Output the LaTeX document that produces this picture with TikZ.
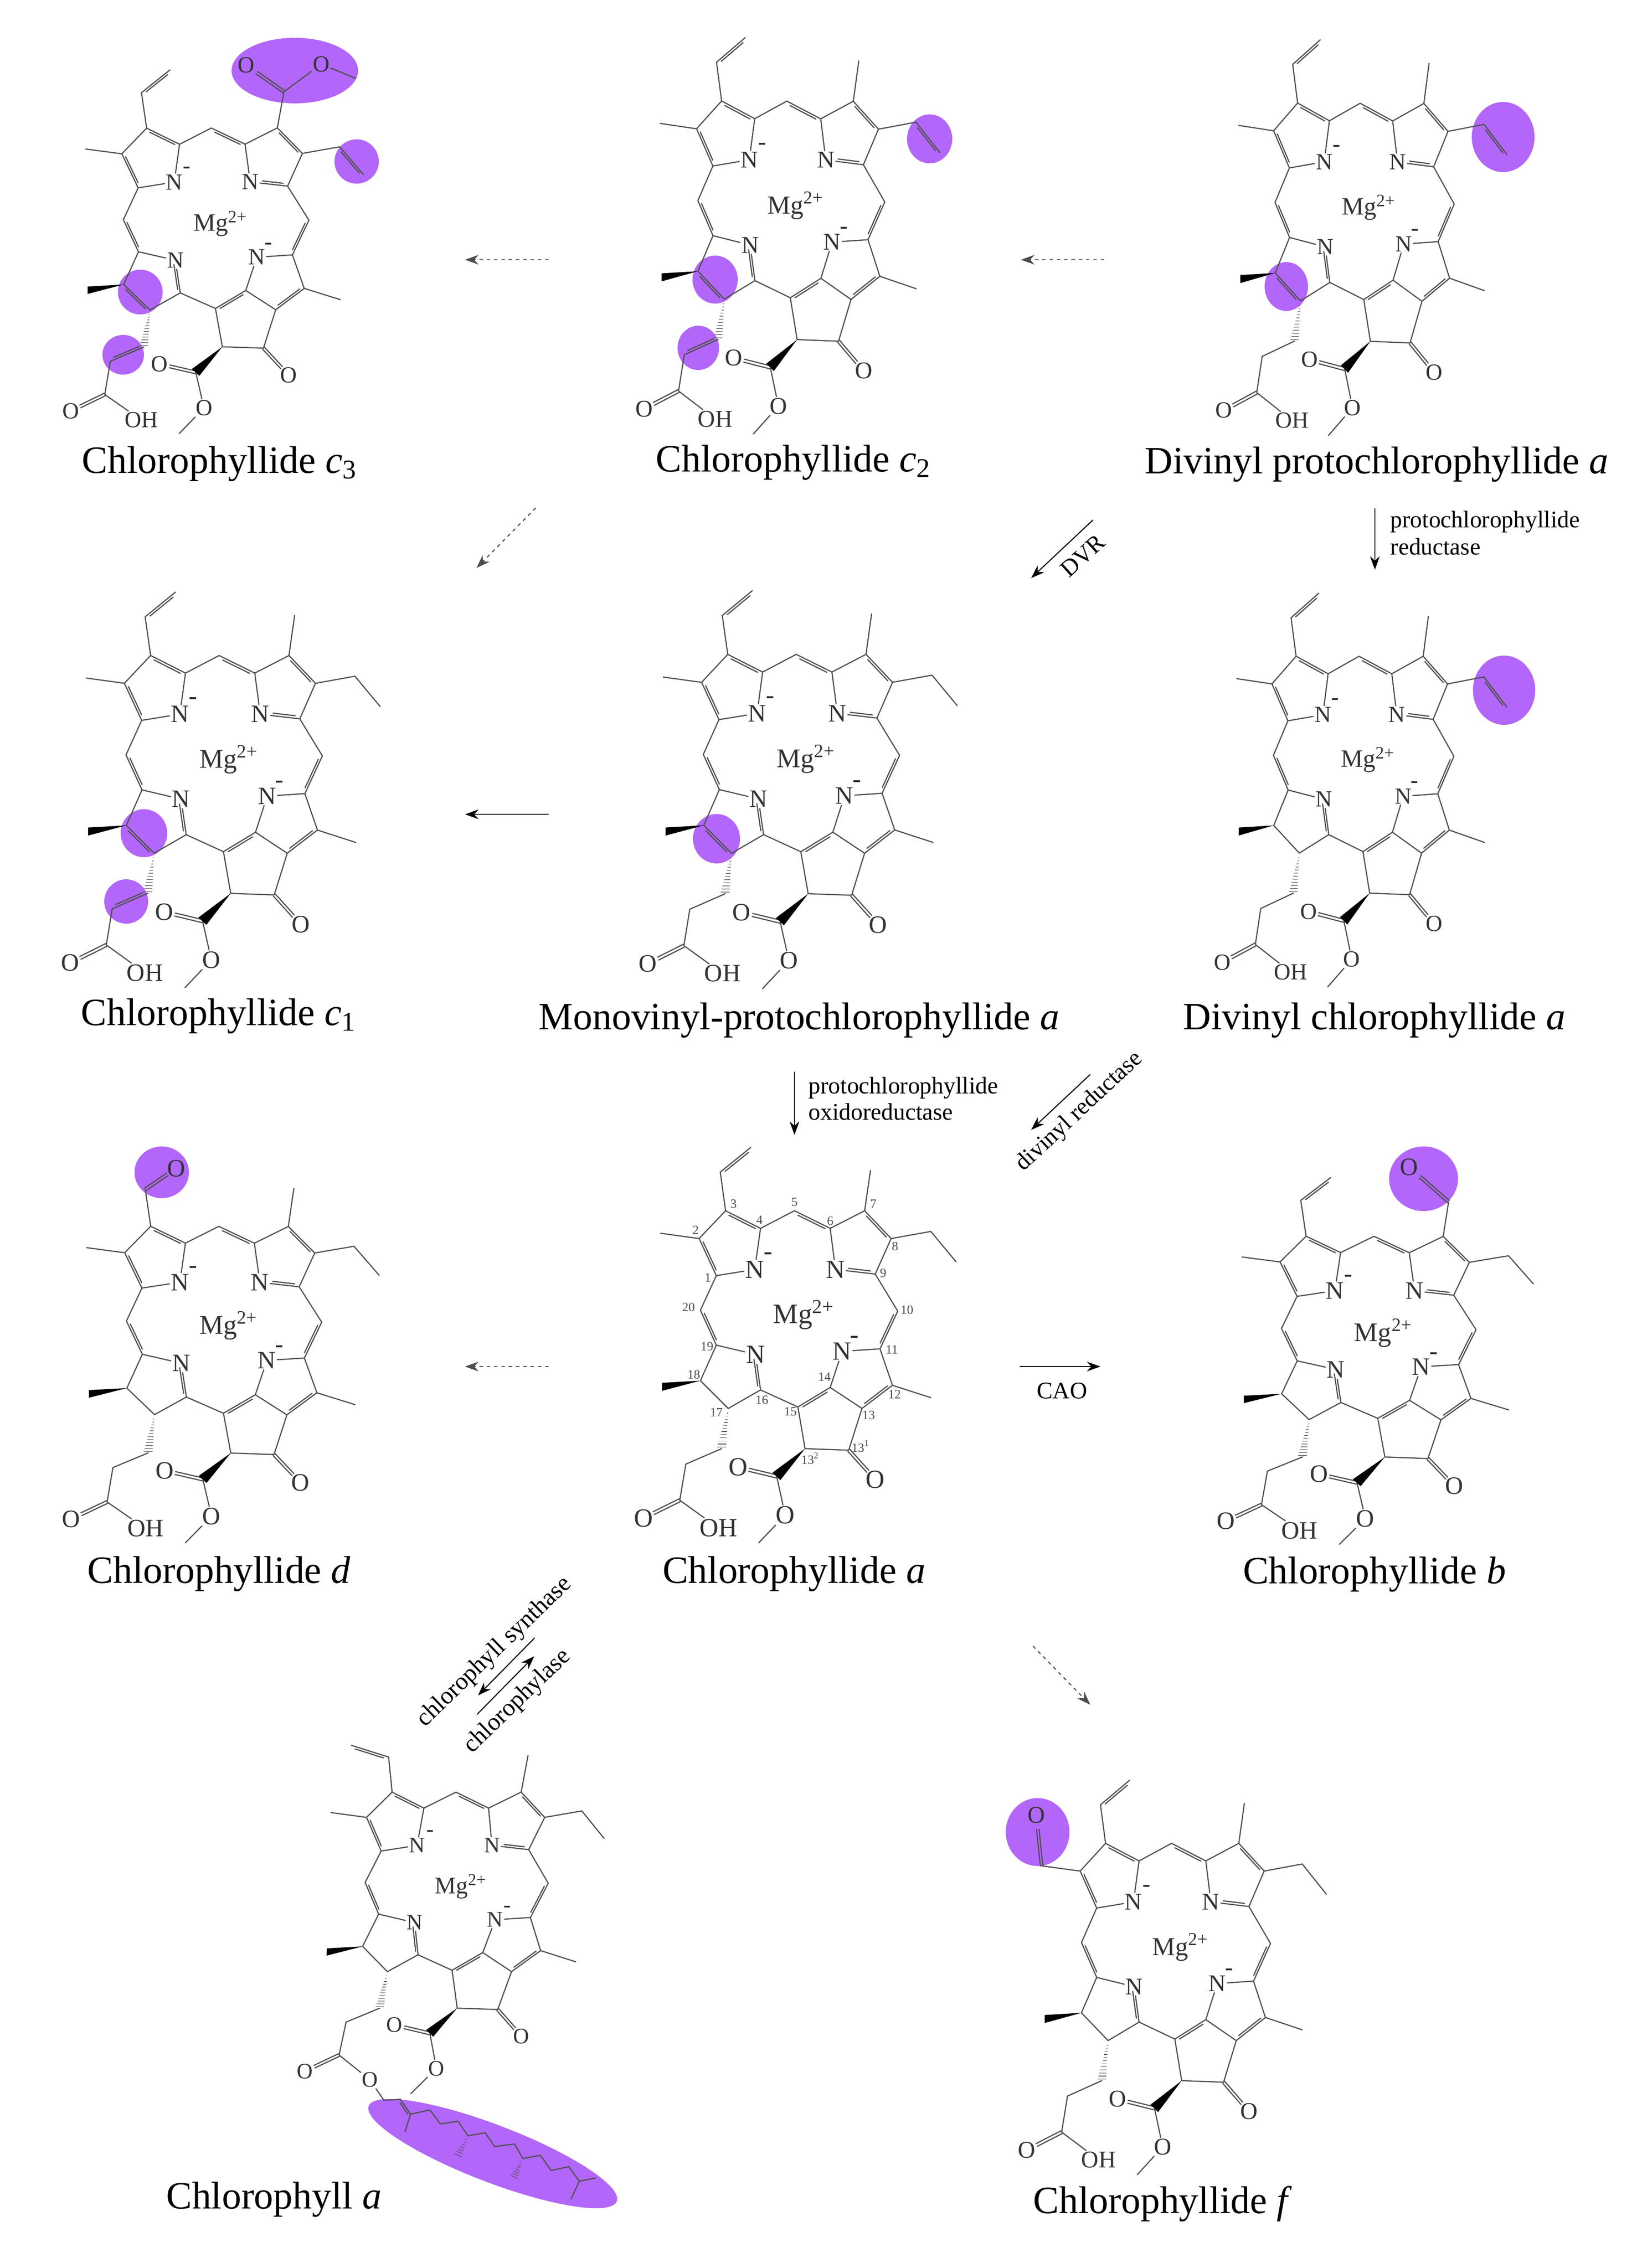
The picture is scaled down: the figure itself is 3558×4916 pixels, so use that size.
\documentclass[tikz,border=0pt]{standalone}
\usepackage{fontspec}
\setmainfont{Liberation Serif}
\usetikzlibrary{calc,arrows.meta}
\definecolor{hlpurple}{HTML}{B266FA}
\definecolor{bondcol}{HTML}{505050}
\tikzset{
  bd/.style={draw=bondcol,line width=.6pt,line cap=round,line join=round},
  atom/.style={inner sep=.5pt,text=black!80,font=\fontsize{\mfs}{\mfs}\selectfont},
  atomsm/.style={inner sep=0pt,text=black!85,font=\fontsize{\mfs}{\mfs}\selectfont},
  mgatom/.style={inner sep=.5pt,text=black!80,font=\fontsize{\mgfs}{\mgfs}\selectfont},
  num/.style={inner sep=0pt,text=black!70,font=\fontsize{6.6}{6.6}\selectfont},
  title/.style={anchor=base,inner sep=0pt,font=\fontsize{20.1}{22}\selectfont},
  enz/.style={inner sep=0pt,font=\fontsize{12.4}{14}\selectfont},
  rxn/.style={draw=black,line width=.55pt,-{Stealth[length=7pt,width=5pt]}},
  rxnd/.style={draw=black!70,line width=.55pt,dash pattern=on 1.8pt off 2pt,-{Stealth[length=7pt,width=5pt]}},
  hlfill/.style={fill=hlpurple,draw=none}
}
\newcommand\dbgap{2pt}
\newcommand\dbond[3][.12]{%
  \draw[bd] (#2)--(#3);
  \draw[bd] ($(#2)!#1!(#3)!\dbgap!90:(#3)$)--($(#3)!.12!(#2)!\dbgap!-90:(#2)$);}
\newcommand\cbond[2]{%
  \draw[bd] ($(#1)!1.2pt!90:(#2)$)--($(#1)!.72!(#2)!1.2pt!90:(#2)$);
  \draw[bd] ($(#1)!1.2pt!-90:(#2)$)--($(#1)!.72!(#2)!1.2pt!-90:(#2)$);}
\newcommand\hl[4]{\fill[hlfill] (#1,#2) ellipse [x radius=#3,y radius=#4];}
% invariant part of the macrocycle
\newcommand\mol[1]{%
  \def\mfs{#1}%
  \pgfmathsetmacro\mgfs{#1*1.08}%
  \coordinate (C1) at (440,545);\coordinate (C2) at (375,425);\coordinate (C3) at (475,335);
  \coordinate (C4) at (607,392);\coordinate (C5) at (735,335);\coordinate (C6) at (870,392);
  \coordinate (C7) at (1000,335);\coordinate (C8) at (1100,425);\coordinate (C9) at (1040,540);
  \coordinate (C10) at (1125,660);\coordinate (C11) at (1058,782);\coordinate (C12) at (1105,900);
  \coordinate (C13) at (990,975);\coordinate (C14) at (870,907);\coordinate (C15) at (748,970);
  \coordinate (C16) at (607,915);\coordinate (C17) at (485,975);\coordinate (C18) at (380,885);
  \coordinate (C19) at (440,770);\coordinate (C20) at (380,657);
  \coordinate (Va) at (455,210);\coordinate (Vb) at (570,130);
  \coordinate (M2) at (230,408);\coordinate (M7) at (1022,205);\coordinate (M12) at (1250,940);
  \coordinate (E1) at (1250,402);\coordinate (E2) at (1345,500);
  \coordinate (CHa) at (460,1105);\coordinate (CHb) at (325,1155);\coordinate (CO) at (302,1272);
  \coordinate (K1) at (940,1110);\coordinate (K2) at (775,1105);\coordinate (EC) at (668,1195);
  \coordinate (Me) at (600,1410);
  \node[atom] (Na) at (585,525) {N};\node[atomsm] (Nam) at (636,482) {-};
  \node[atom] (Nb) at (890,525) {N};
  \node[atom] (Nc) at (915,790) {N};\node[atomsm] (Ncm) at (962,752) {-};
  \node[atom] (Nd) at (588,800) {N};
  \node[mgatom] (Mg) at (770,672) {Mg\textsuperscript{2+}};
  \node[atom] (Ok) at (1040,1205) {O};
  \node[atom] (Oe) at (522,1165) {O};
  \node[atom] (Om) at (700,1320) {O};
  \node[atom] (Oa) at (165,1330) {O};
  \draw[bd] (C3)--(C2) (C4)--(C5) (C6)--(C7) (C8)--(C9) (C6)--(Nb) (C4)--(Na) (Na)--(C1) (C1)--(C20)
    (C19)--(Nd) (C19)--(C18) (C17)--(C16) (C16)--(C15) (C14)--(Nc) (Nc)--(C11) (C10)--(C9)
    (C11)--(C12) (C13)--(C14) (C13)--(K1) (K1)--(K2) (K2)--(C15) (C12)--(M12)
    (EC)--(Om) (Om)--(Me) (CHb)--(CO);
  \dbond{C4}{C3}\dbond{C2}{C1}\dbond{C6}{C5}\dbond{C8}{C7}\dbond[.32]{Nb}{C9}\dbond{C20}{C19}
  \dbond{C11}{C10}\dbond{C16}{Nd}\dbond{C14}{C15}\dbond{C13}{C12}
  \cbond{K1}{Ok}\cbond{EC}{Oe}\cbond{CO}{Oa}
  \fill[black] (C18)--(235,892)--(235,918)--cycle;
  \fill[black] (K2)--(652,1183)--(682,1207)--cycle;
  \foreach \t in {.12,.2,.28,.36,.44,.52,.6,.68,.76,.84,.92,1}
    {\draw[draw=bondcol,line width=.3pt] ({485-25*\t-17*\t},{975+125*\t})--({485-25*\t+17*\t},{975+125*\t});}
}
% variable parts
\newcommand\subVinyl{\draw[bd] (C3)--(Va);\dbond{Vb}{Va}}
\newcommand\subMeII{\draw[bd] (C2)--(M2);}
\newcommand\subMeVII{\draw[bd] (C7)--(M7);}
\newcommand\subEt{\draw[bd] (C8)--(E1)--(E2);}
\newcommand\subVinylVIII{\draw[bd] (C8)--(E1);\dbond{E2}{E1}}
\newcommand\sglXVIII{\draw[bd] (C18)--(C17);}
\newcommand\dblXVIII{\dbond{C17}{C18}}
\newcommand\sglCH{\draw[bd] (CHa)--(CHb);}
\newcommand\dblCH{\dbond{CHb}{CHa}}
\newcommand\subOH{\node[atom] (Oh) at (448,1362) {OH};\draw[bd] (CO)--(Oh);}
\begin{document}
\begin{tikzpicture}[x=.24pt,y=-.24pt]
\useasboundingbox (0,0) rectangle (3558,4916);
\fill[white] (0,0) rectangle (3558,4916);
% ---------- highlights
\hl{639}{153}{137}{71}\hl{773}{350}{48}{48}\hl{304}{633}{48.5}{48.5}\hl{267}{769}{45}{43}
\hl{2015}{301}{49}{53}\hl{1550}{606}{49}{52}\hl{1513.5}{754}{45}{48}
\hl{3258}{297}{68}{76}\hl{2788}{621}{47}{53}
\hl{312}{1806}{50.5}{52}\hl{273.5}{1954}{47.5}{48}
\hl{1553}{1818}{51}{53.6}
\hl{3260}{1496}{67.5}{75}
\hl{350.5}{2541}{59}{56}
\hl{3085.5}{2555}{74.6}{70}
\hl{2249}{3971}{69}{73.6}
\fill[hlfill,rotate around={-21:(1068,4668)}] (1068,4668) ellipse [x radius=288,y radius=62];
% ---------- Chlorophyllide c3
\begin{scope}[name prefix=cIII-,cm={.5398,.0011,-.0029,.6159,(60.4,72)}]
  \mol{12}\subVinyl\subMeII\subVinylVIII\dblXVIII\dblCH\subOH
  \node[atom] (Oi) at (876,114) {O};\node[atom] (Oj) at (1177,111) {O};
  \coordinate (Ec) at (1027,208);\coordinate (Em) at (1315,161);
  \draw[bd] (C7)--(Ec) (Ec)--(Oj) (Oj)--(Em);\cbond{Ec}{Oi}
\end{scope}
% ---------- Chlorophyllide c2
\begin{scope}[name prefix=cII-,cm={.5437,-.0012,-.0008,.6712,(1305.5,-6.6)}]
  \mol{12.5}\subVinyl\subMeII\subMeVII\subVinylVIII\dblXVIII\dblCH\subOH
\end{scope}
% ---------- Divinyl protochlorophyllide a
\begin{scope}[name prefix=dvp-,cm={.5212,-.0017,-.0017,.67,(2564.4,-1.9)}]
  \mol{12}\subVinyl\subMeII\subMeVII\subVinylVIII\dblXVIII\sglCH\subOH
\end{scope}
% ---------- Chlorophyllide c1
\begin{scope}[name prefix=cI-,cm={.5712,-.0001,-.003,.6696,(54.1,1196.4)}]
  \mol{13}\subVinyl\subMeII\subMeVII\subEt\dblXVIII\dblCH\subOH
\end{scope}
% ---------- Monovinyl-protochlorophyllide a
\begin{scope}[name prefix=mvp-,cm={.5708,.0001,-.004,.6737,(1304.9,1192.7)}]
  \mol{13}\subVinyl\subMeII\subMeVII\subEt\dblXVIII\sglCH\subOH
\end{scope}
% ---------- Divinyl chlorophyllide a
\begin{scope}[name prefix=dvc-,cm={.5248,-.0002,-.0027,.6668,(2559,1198.9)}]
  \mol{12}\subVinyl\subMeII\subMeVII\subVinylVIII\sglXVIII\sglCH\subOH
\end{scope}
% ---------- Chlorophyllide d
\begin{scope}[name prefix=cd-,cm={.5681,-.0008,-.004,.6379,(55.5,2443.9)}]
  \mol{13}\subMeII\subMeVII\subEt\sglXVIII\sglCH\subOH
  \node[atom] (Od) at (573,138) {O};
  \draw[bd] (C3)--(Va);\cbond{Va}{Od}
\end{scope}
% ---------- Chlorophyllide a (numbered)
\begin{scope}[name prefix=ca-,cm={.574,0,0,.6696,(1300,2400)}]
  \mol{13.6}\subVinyl\subMeII\subMeVII\subEt\sglXVIII\sglCH\subOH
  \foreach \txt/\px/\py [count=\i] in {1/408/552,2/362/398,3/505/313,4/603/365,5/735/307,6/870/368,7/1033/313,8/1115/450,9/1070/537,10/1160/657,11/1103/785,12/1113/930,13/1015/997,13\textsuperscript{1}/985/1097,13\textsuperscript{2}/795/1137,14/848/873,15/720/985,16/612/947,17/440/988,18/355/865,19/405/775,20/335/648}
    {\node[num] (num\i) at (\px,\py) {\txt};}
\end{scope}
% ---------- Chlorophyllide b
\begin{scope}[name prefix=cb-,cm={.566,-.001,-.0013,.6212,(2561.6,2470.9)}]
  \mol{13}\subVinyl\subMeII\subEt\sglXVIII\sglCH\subOH
  \coordinate (Ac) at (1021,214);\node[atom] (Ob) at (870,93) {O};
  \draw[bd] (C7)--(Ac);\cbond{Ac}{Ob}
\end{scope}
% ---------- Chlorophyllide f
\begin{scope}[name prefix=cf-,cm={.55,0,0,.668,(2135,3771.7)}]
  \mol{12.5}\subVinyl\subMeVII\subEt\sglXVIII\sglCH\subOH
  \coordinate (Ac) at (223,408);\node[atom] (Of) at (202,243) {O};
  \draw[bd] (C2)--(Ac);\cbond{Ac}{Of}
\end{scope}
% ---------- Chlorophyll a
\begin{scope}[name prefix=cha-,cm={.5327,0,.0243,.608,(605,3680.8)}]
  \mol{11.5}\subMeII\subMeVII\subEt\sglXVIII\sglCH
  \coordinate (Wb) at (301,168);
  \draw[bd] (C3)--(Va);\dbond{Va}{Wb}
  \node[atom] (Oz) at (432,1361) {O};\draw[bd] (CO)--(Oz);
\end{scope}
\begin{scope}[name prefix=phy-,cm={.5102,0,0,.7015,(600,3700)}]
  \coordinate (p1) at (455,1215);\coordinate (p2) at (525,1212);\coordinate (p3) at (568,1258);
  \coordinate (p4) at (650,1245);\coordinate (p5) at (695,1288);\coordinate (p6) at (770,1280);
  \coordinate (p7) at (812,1325);\coordinate (p8) at (885,1315);\coordinate (p9) at (925,1358);
  \coordinate (p10) at (1010,1350);\coordinate (p11) at (1045,1395);\coordinate (p12) at (1120,1385);
  \coordinate (p13) at (1165,1432);\coordinate (p14) at (1240,1420);\coordinate (p15) at (1285,1465);
  \coordinate (p16) at (1355,1455);\coordinate (b1) at (545,1312);\coordinate (b2) at (1250,1520);
  \draw[bd] (cha-Oz)--(p1)--(p2);
  \dbond{p3}{p2}
  \draw[bd] (p3)--(p4)--(p5)--(p6)--(p7)--(p8)--(p9)--(p10)--(p11)--(p12)--(p13)--(p14)--(p15)--(p16);
  \draw[bd] (p3)--(b1) (p15)--(b2);
  \foreach \t in {.2,.33,.46,.6,.73,.86,1}{
    \draw[draw=bondcol,line width=.3pt] ({812-42*\t-14*\t},{1325+60*\t-5*\t})--({812-42*\t+14*\t},{1325+60*\t+5*\t});
    \draw[draw=bondcol,line width=.3pt] ({1045-37*\t-14*\t},{1395+57*\t-5*\t})--({1045-37*\t+14*\t},{1395+57*\t+5*\t});}
\end{scope}
% ---------- titles
\node[title] (tcIII) at (476,1025) {Chlorophyllide \textit{c}\textsubscript{3}};
\node[title] (tcII) at (1720,1022) {Chlorophyllide \textit{c}\textsubscript{2}};
\node[title] (tdvp) at (2984,1026) {Divinyl protochlorophyllide \textit{a}};
\node[title] (tcI) at (474,2222) {Chlorophyllide \textit{c}\textsubscript{1}};
\node[title] (tmvp) at (1732,2231) {Monovinyl-protochlorophyllide \textit{a}};
\node[title] (tdvc) at (2979,2231) {Divinyl chlorophyllide \textit{a}};
\node[title] (tcd) at (475,3431) {Chlorophyllide \textit{d}};
\node[title] (tca) at (1721,3431) {Chlorophyllide \textit{a}};
\node[title] (tcb) at (2979,3432) {Chlorophyllide \textit{b}};
\node[title] (tcha) at (594,4787) {Chlorophyll \textit{a}};
\node[title] (tcf) at (2520,4797) {Chlorophyllide \textit{f}};
% ---------- enzyme labels
\node[enz,anchor=base west] (e1) at (3013,1143) {protochlorophyllide};
\node[enz,anchor=base west] (e2) at (3013,1202) {reductase};
\node[enz,anchor=base west] (e3) at (1752,2370) {protochlorophyllide};
\node[enz,anchor=base west] (e4) at (1752,2427) {oxidoreductase};
\node[enz,rotate=43] (e5) at (2340,2410) {divinyl reductase};
\node[enz,rotate=42] (e6) at (2347,1205) {DVR};
\node[enz] (e7) at (2302,3015) {CAO};
\node[enz,rotate=44,font=\fontsize{12.8}{14}\selectfont] (e8) at (1072,3581) {chlorophyll synthase};
\node[enz,rotate=44,font=\fontsize{12.8}{14}\selectfont] (e9) at (1122,3688) {chlorophylase};
% ---------- reaction arrows
\foreach \nm/\ax/\ay/\bx/\by in {
  a/1189/563/1008/563, b/2393/563/2213/563, c/1161/1101/1033/1231, d/1189/2962/1008/2962, e/2239/3568/2363/3695}
  {\coordinate (ds\nm) at (\ax,\ay);\coordinate (de\nm) at (\bx,\by);\draw[rxnd] (ds\nm)--(de\nm);}
\foreach \nm/\ax/\ay/\bx/\by in {
  f/2369/1127/2235/1253, g/2980/1102/2980/1235, h/1189/1765/1008/1765, i/1722/2323/1722/2460,
  j/2363/2329/2235/2449, k/2210/2962/2385/2962, l/1159/3550/1036/3675, m/1034/3716/1158/3590}
  {\coordinate (ss\nm) at (\ax,\ay);\coordinate (se\nm) at (\bx,\by);\draw[rxn] (ss\nm)--(se\nm);}
\end{tikzpicture}
\end{document}
